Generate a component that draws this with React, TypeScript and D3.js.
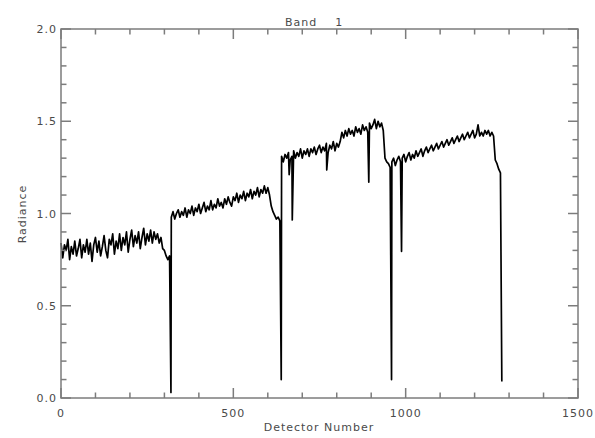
import React from "react";
import * as d3 from "d3";

// ---- Data ----
const STEP = 5;
const module1 = [
  0.84, 0.76, 0.83, 0.80, 0.86, 0.75, 0.82, 0.78, 0.85, 0.77, 0.81, 0.86, 0.76, 0.83, 0.79, 0.86,
  0.78, 0.84, 0.74, 0.83, 0.87, 0.79, 0.85, 0.77, 0.82, 0.88, 0.80, 0.76, 0.86, 0.83, 0.89, 0.78,
  0.85, 0.81, 0.89, 0.80, 0.87, 0.83, 0.90, 0.79, 0.86, 0.91, 0.82, 0.88, 0.84, 0.90, 0.81, 0.87,
  0.92, 0.83, 0.89, 0.85, 0.91, 0.84, 0.90, 0.86, 0.89, 0.84, 0.87, 0.81, 0.80, 0.77, 0.75, 0.77,
];
const module2 = [
  0.98, 1.01, 0.97, 1.00, 1.02, 0.98, 1.01, 0.99, 1.03, 0.98, 1.02, 1.00, 1.04, 0.99, 1.03, 1.01,
  1.05, 1.00, 1.03, 1.06, 1.01, 1.04, 1.02, 1.07, 1.02, 1.05, 1.03, 1.08, 1.04, 1.06, 1.03, 1.08,
  1.05, 1.09, 1.06, 1.04, 1.09, 1.07, 1.11, 1.06, 1.10, 1.08, 1.12, 1.07, 1.11, 1.09, 1.13, 1.08,
  1.12, 1.10, 1.14, 1.09, 1.13, 1.11, 1.15, 1.11, 1.14, 1.10, 1.04, 1.01, 0.99, 0.97, 0.98, 0.96,
];
const module3 = [
  1.31, 1.28, 1.32, 1.30, 1.33, 1.29, 1.31, 1.34, 1.30, 1.33, 1.31, 1.35, 1.30, 1.34, 1.32, 1.35,
  1.31, 1.35, 1.33, 1.36, 1.32, 1.35, 1.37, 1.33, 1.36, 1.34, 1.38, 1.33, 1.37, 1.35, 1.39, 1.34,
  1.38, 1.36, 1.39, 1.44, 1.41, 1.45, 1.42, 1.46, 1.43, 1.45, 1.42, 1.47, 1.44, 1.46, 1.43, 1.48,
  1.45, 1.47, 1.44, 1.49, 1.46, 1.48, 1.51, 1.46, 1.50, 1.47, 1.49, 1.45, 1.30, 1.28, 1.27, 1.25,
];
const module4 = [
  1.28, 1.30, 1.26, 1.29, 1.31, 1.28, 1.30, 1.32, 1.28, 1.31, 1.33, 1.29, 1.32, 1.30, 1.34, 1.31,
  1.33, 1.35, 1.31, 1.34, 1.36, 1.33, 1.35, 1.37, 1.34, 1.36, 1.38, 1.35, 1.37, 1.39, 1.36, 1.38,
  1.40, 1.37, 1.39, 1.41, 1.38, 1.40, 1.42, 1.39, 1.41, 1.43, 1.40, 1.42, 1.44, 1.41, 1.43, 1.45,
  1.41, 1.43, 1.48, 1.42, 1.44, 1.42, 1.45, 1.43, 1.45, 1.42, 1.44, 1.42, 1.29, 1.27, 1.24, 1.22,
];
const modules = [module1, module2, module3, module4];
const moduleStarts = [0, 320, 640, 960];
const moduleEndDetectors = [319, 639, 959, 1279];
const moduleEndValues = [0.03, 0.10, 0.10, 0.09];
const spikeDetectors = [662, 671, 771, 893, 988];
const spikeValues = [1.21, 0.965, 1.236, 1.17, 0.795];

const xMajorTicks = [0, 500, 1000, 1500];
const xMinorTicks = [100, 200, 300, 400, 600, 700, 800, 900, 1100, 1200, 1300, 1400];
const yMajorTicks = [0, 0.5, 1.0, 1.5, 2.0];
const yTickLabels = ["0.0", "0.5", "1.0", "1.5", "2.0"];
const yMinorTicks = [0.1, 0.2, 0.3, 0.4, 0.6, 0.7, 0.8, 0.9, 1.1, 1.2, 1.3, 1.4, 1.6, 1.7, 1.8, 1.9];

const title = "Band    1";
const xTitle = "Detector Number";
const yTitle = "Radiance";

// ---- Build series ----
type Pt = [number, number];
const points: Pt[] = [];
modules.forEach((vals, m) => {
  vals.forEach((v, i) => points.push([moduleStarts[m] + i * STEP, v]));
  points.push([moduleEndDetectors[m], moduleEndValues[m]]);
});
spikeDetectors.forEach((d, i) => points.push([d, spikeValues[i]]));
points.sort((a, b) => a[0] - b[0]);

const W = 595;
const H = 438;
const left = 61;
const right = 578;
const top = 29;
const bottom = 398;

export default function App() {
  const x = d3.scaleLinear().domain([0, 1500]).range([left, right]);
  const y = d3.scaleLinear().domain([0, 2]).range([bottom, top]);
  const line = d3
    .line<Pt>()
    .x((d) => x(d[0]))
    .y((d) => y(d[1]));

  const axisColor = "#7c7c7c";
  const textColor = "#4a4a4a";
  const major = 10;
  const minor = 5.5;
  const font = "'DejaVu Sans', sans-serif";

  return (
    <svg
      width={W}
      height={H}
      style={{ position: "fixed", left: 0, top: 0, background: "#fff" }}
      xmlns="http://www.w3.org/2000/svg"
    >
      <rect x={0} y={0} width={W} height={H} fill="#fff" />
      <path d={line(points) || ""} fill="none" stroke="#000" strokeWidth={1.7} strokeLinejoin="round" />
      <g stroke={axisColor} strokeWidth={1.5} fill="none">
        <rect x={left} y={top} width={right - left} height={bottom - top} />
        {xMajorTicks.map((t) => (
          <g key={"xM" + t}>
            <line x1={x(t)} x2={x(t)} y1={bottom} y2={bottom - major} />
            <line x1={x(t)} x2={x(t)} y1={top} y2={top + major} />
          </g>
        ))}
        {xMinorTicks.map((t) => (
          <g key={"xm" + t}>
            <line x1={x(t)} x2={x(t)} y1={bottom} y2={bottom - minor} />
            <line x1={x(t)} x2={x(t)} y1={top} y2={top + minor} />
          </g>
        ))}
        {yMajorTicks.map((t) => (
          <g key={"yM" + t}>
            <line x1={left} x2={left + major} y1={y(t)} y2={y(t)} />
            <line x1={right} x2={right - major} y1={y(t)} y2={y(t)} />
          </g>
        ))}
        {yMinorTicks.map((t) => (
          <g key={"ym" + t}>
            <line x1={left} x2={left + minor} y1={y(t)} y2={y(t)} />
            <line x1={right} x2={right - minor} y1={y(t)} y2={y(t)} />
          </g>
        ))}
      </g>
      <g fill={textColor} fontFamily={font} fontSize={11} letterSpacing={1}>
        {xMajorTicks.map((t) => (
          <text key={"xl" + t} x={x(t)} y={417} textAnchor="middle">
            {String(t)}
          </text>
        ))}
        {yMajorTicks.map((t, i) => (
          <text key={"yl" + t} x={57} y={y(t) + 4} textAnchor="end">
            {yTickLabels[i]}
          </text>
        ))}
        <text x={285} y={26} style={{ whiteSpace: "pre" }}>
          {title}
        </text>
        <text x={319} y={431} textAnchor="middle">
          {xTitle}
        </text>
        <text transform={`translate(26,214) rotate(-90)`} textAnchor="middle">
          {yTitle}
        </text>
      </g>
    </svg>
  );
}
